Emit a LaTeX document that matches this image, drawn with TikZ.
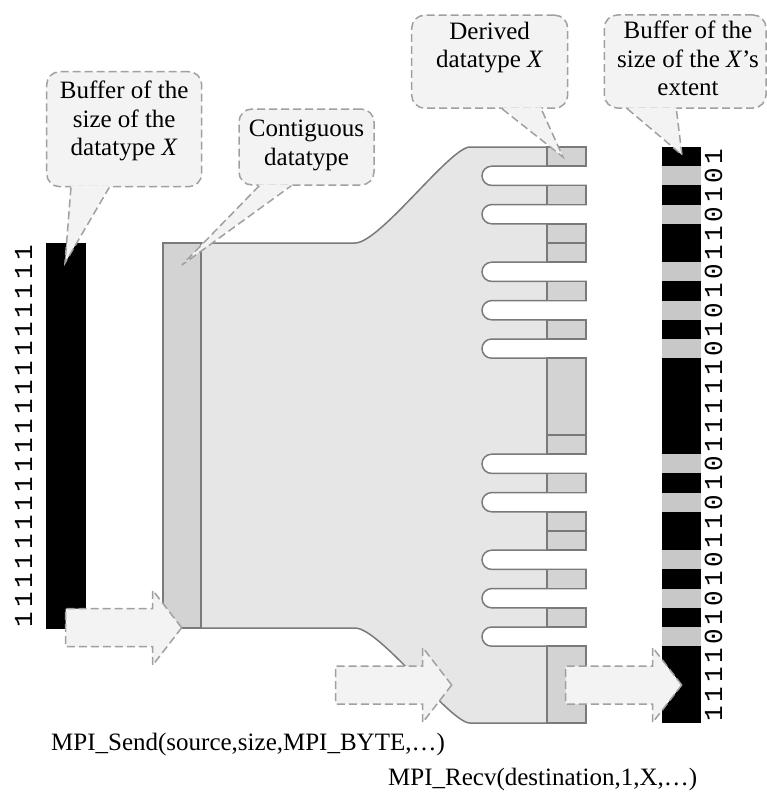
\documentclass[tikz,border=0pt]{standalone}
\usepackage{fontspec}
\setmainfont{Liberation Serif}
\newfontfamily\bitfont{Liberation Mono}
\usetikzlibrary{calc}

\definecolor{bodygray}{HTML}{E6E6E6}
\definecolor{cellgray}{HTML}{D3D3D3}
\definecolor{edgegray}{HTML}{7A7A7A}
\definecolor{bitgray}{HTML}{C8C8C8}
\definecolor{callfill}{HTML}{F3F3F3}
\definecolor{dashgray}{HTML}{A0A0A0}
\colorlet{bitc1}{black}
\colorlet{bitc0}{bitgray}

\tikzset{
  body/.style={fill=bodygray, draw=edgegray, line width=1.5pt},
  cell/.style={fill=cellgray, draw=edgegray, line width=1.5pt},
  dashy/.style={draw=dashgray, line width=1.5pt, dash pattern=on 8pt off 4pt},
  callbox/.style={dashy, fill=callfill, rounded corners=13pt, inner sep=0pt},
  calltext/.style={inner sep=0pt, align=center, font=\fontsize{25}{28.5}\selectfont},
  bitlabel/.style={inner sep=0pt, rotate=90, font=\bitfont\fontsize{26}{26}\selectfont},
  blockarr/.pic={
    \draw[dashy, fill=callfill] (0,0) -- (-29,-37.5) -- (-29,-19) -- (-116,-19)
      -- (-116,19) -- (-29,19) -- (-29,37.5) -- cycle;
  }
}

% pointer of a callout: box, left and right offset of its base, tip
\newcommand\calloutptr[4]{%
  \fill[callfill] ($(#1.south west)+(#2,-1.5)$) -- (#4) -- ($(#1.south west)+(#3,-1.5)$) -- cycle;
  \draw[dashy] ($(#1.south west)+(#2,0)$) -- (#4) -- ($(#1.south west)+(#3,0)$);
}

\begin{document}
\begin{tikzpicture}[x=1pt, y=-1pt]
  \useasboundingbox (0,0) rectangle (767,792);

  % derived datatype
  \draw[body] (201,243) -- (355,243) .. controls (380,243) and (450,147) .. (470,147) -- (586,147)
    \foreach \s in {1,3,6,8,10,16,18,21,23,25} {
      -- (586,{147+19.2*\s}) -- (491.6,{147+19.2*\s})
      arc[start angle=270, end angle=90, radius=9.6] -- (586,{147+19.2*(\s+1)})
    }
    -- (586,723) -- (470,723) .. controls (450,723) and (380,628) .. (355,628) -- (201,628) -- cycle;
  \foreach \a/\b in {0/1,2/3,4/5,5/6,7/8,9/10,11/15,15/16,17/18,19/20,20/21,22/23,24/25,26/30}
    \draw[cell] (547,{147+19.2*\a}) rectangle (586,{147+19.2*\b});

  % contiguous datatype
  \draw[cell] (163,243) rectangle (201,628);

  % send buffer
  \fill (46,243) rectangle (86,629);
  \foreach \i in {0,...,19}
    \node[bitlabel] (l\i) at (23.5,{243+19.3*(\i+0.5)}) {1};

  % receive buffer
  \foreach \b [count=\i from 0] in {1,0,1,0,1,1,0,1,0,1,0,1,1,1,1,1,0,1,0,1,1,0,1,0,1,0,1,1,1,1} {
    \fill[bitc\b] (662,{147+19.2*\i}) rectangle (701,{147+19.2*(\i+1)});
    \node[bitlabel] (r\i) at (713.5,{147+19.2*(\i+0.5)}) {\b};
  }

  % calls
  \node[calltext, anchor=base west] (send) at (51,750) {MPI\_Send(source,size,MPI\_BYTE,…)};
  \node[calltext, anchor=base west] (recv) at (388,785) {MPI\_Recv(destination,1,X,…)};

  % arrows
  \pic at (181.7,627.7) {blockarr};
  \pic at (451.7,685) {blockarr};
  \pic at (681.7,685) {blockarr};

  % callouts
  \node[callbox, minimum width=155, minimum height=115] (bufX) at (124.2,129.2) {};
  \node[callbox, minimum width=135, minimum height=76] (contig) at (306.5,147) {};
  \node[callbox, minimum width=156, minimum height=93] (derX) at (489.7,61.7) {};
  \node[callbox, minimum width=161.7, minimum height=93] (extX) at (685.2,61.5) {};
  \coordinate (bufXtip) at (65,263);
  \coordinate (contigtip) at (182,265);
  \coordinate (derXtip) at (563,157);
  \coordinate (extXtip) at (682,155);
  \calloutptr{bufX}{25}{63.3}{bufXtip}
  \calloutptr{contig}{21}{53}{contigtip}
  \calloutptr{derX}{91.3}{130.3}{derXtip}
  \calloutptr{extX}{23.7}{72.7}{extXtip}
  \node[calltext] (bufXtext) at (124.2,121.2) {Buffer of the\\size of the\\datatype \textit{X}};
  \node[calltext] (contigtext) at (306.5,145.6) {Contiguous\\datatype};
  \node[calltext] (derXtext) at (489.7,47.4) {Derived\\datatype \textit{X}};
  \node[calltext] (extXtext) at (688,58.5) {Buffer of the\\size of the \textit{X}’s\\extent};
\end{tikzpicture}
\end{document}
